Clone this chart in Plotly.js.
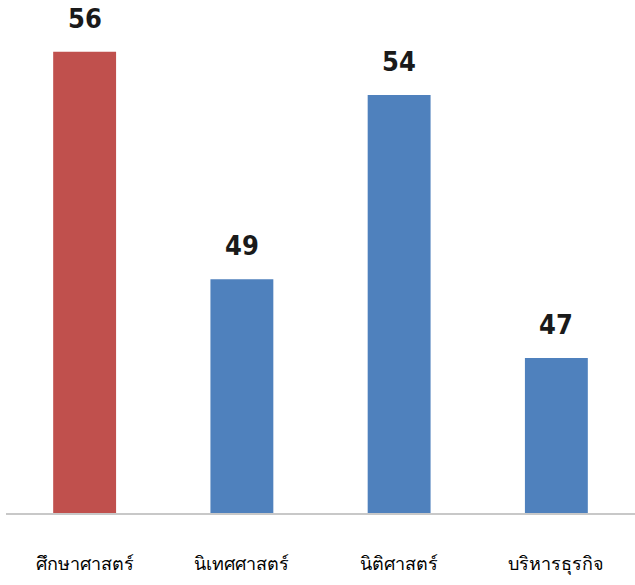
<!DOCTYPE html>
<html><head><meta charset="utf-8">
<script src="https://cdn.plot.ly/plotly-3.0.1.min.js"></script>
<style>html,body{margin:0;padding:0;background:#fff}</style>
</head><body>
<div id="chart" style="width:635px;height:585px"></div>
<script>
const categories = ["ศึกษาศาสตร์", "นิเทศศาสตร์", "นิติศาสตร์", "บริหารธุรกิจ"];
const barHeights = [55.15, 49.1, 54, 47];
const valueLabels = ["56", "49", "54", "47"];
const barColors = ["#C0504D", "#4F81BD", "#4F81BD", "#4F81BD"];

const trace = {
  type: "bar",
  x: categories,
  y: barHeights,
  marker: {color: barColors},
  hoverinfo: "none"
};

const annotations = categories.map((c, i) => ({
  x: c, y: barHeights[i], xref: "x", yref: "y",
  text: "<b>" + valueLabels[i] + "</b>", showarrow: false,
  yanchor: "bottom", yshift: 16,
  font: {family: "DejaVu Sans Condensed, Liberation Sans Narrow, sans-serif", size: 27, color: "#1a1a1a"}
}));

const layout = {
  width: 635, height: 585,
  margin: {l: 6, r: 0, t: 0, b: 72},
  paper_bgcolor: "#fff", plot_bgcolor: "#fff",
  bargap: 0.6,
  showlegend: false,
  xaxis: {
    showgrid: false, zeroline: false,
    showline: true, linecolor: "#c8c8c8", linewidth: 2,
    ticks: "", ticklabelstandoff: 33,
    tickfont: {family: "Noto Sans, DejaVu Sans, sans-serif", size: 18, color: "#000"}
  },
  yaxis: {
    range: [42.875, 56.53], showgrid: false, zeroline: false,
    showticklabels: false, showline: false, ticks: ""
  },
  annotations: annotations
};

Plotly.newPlot("chart", [trace], layout, {displayModeBar: false, staticPlot: true});
</script>
</body></html>
